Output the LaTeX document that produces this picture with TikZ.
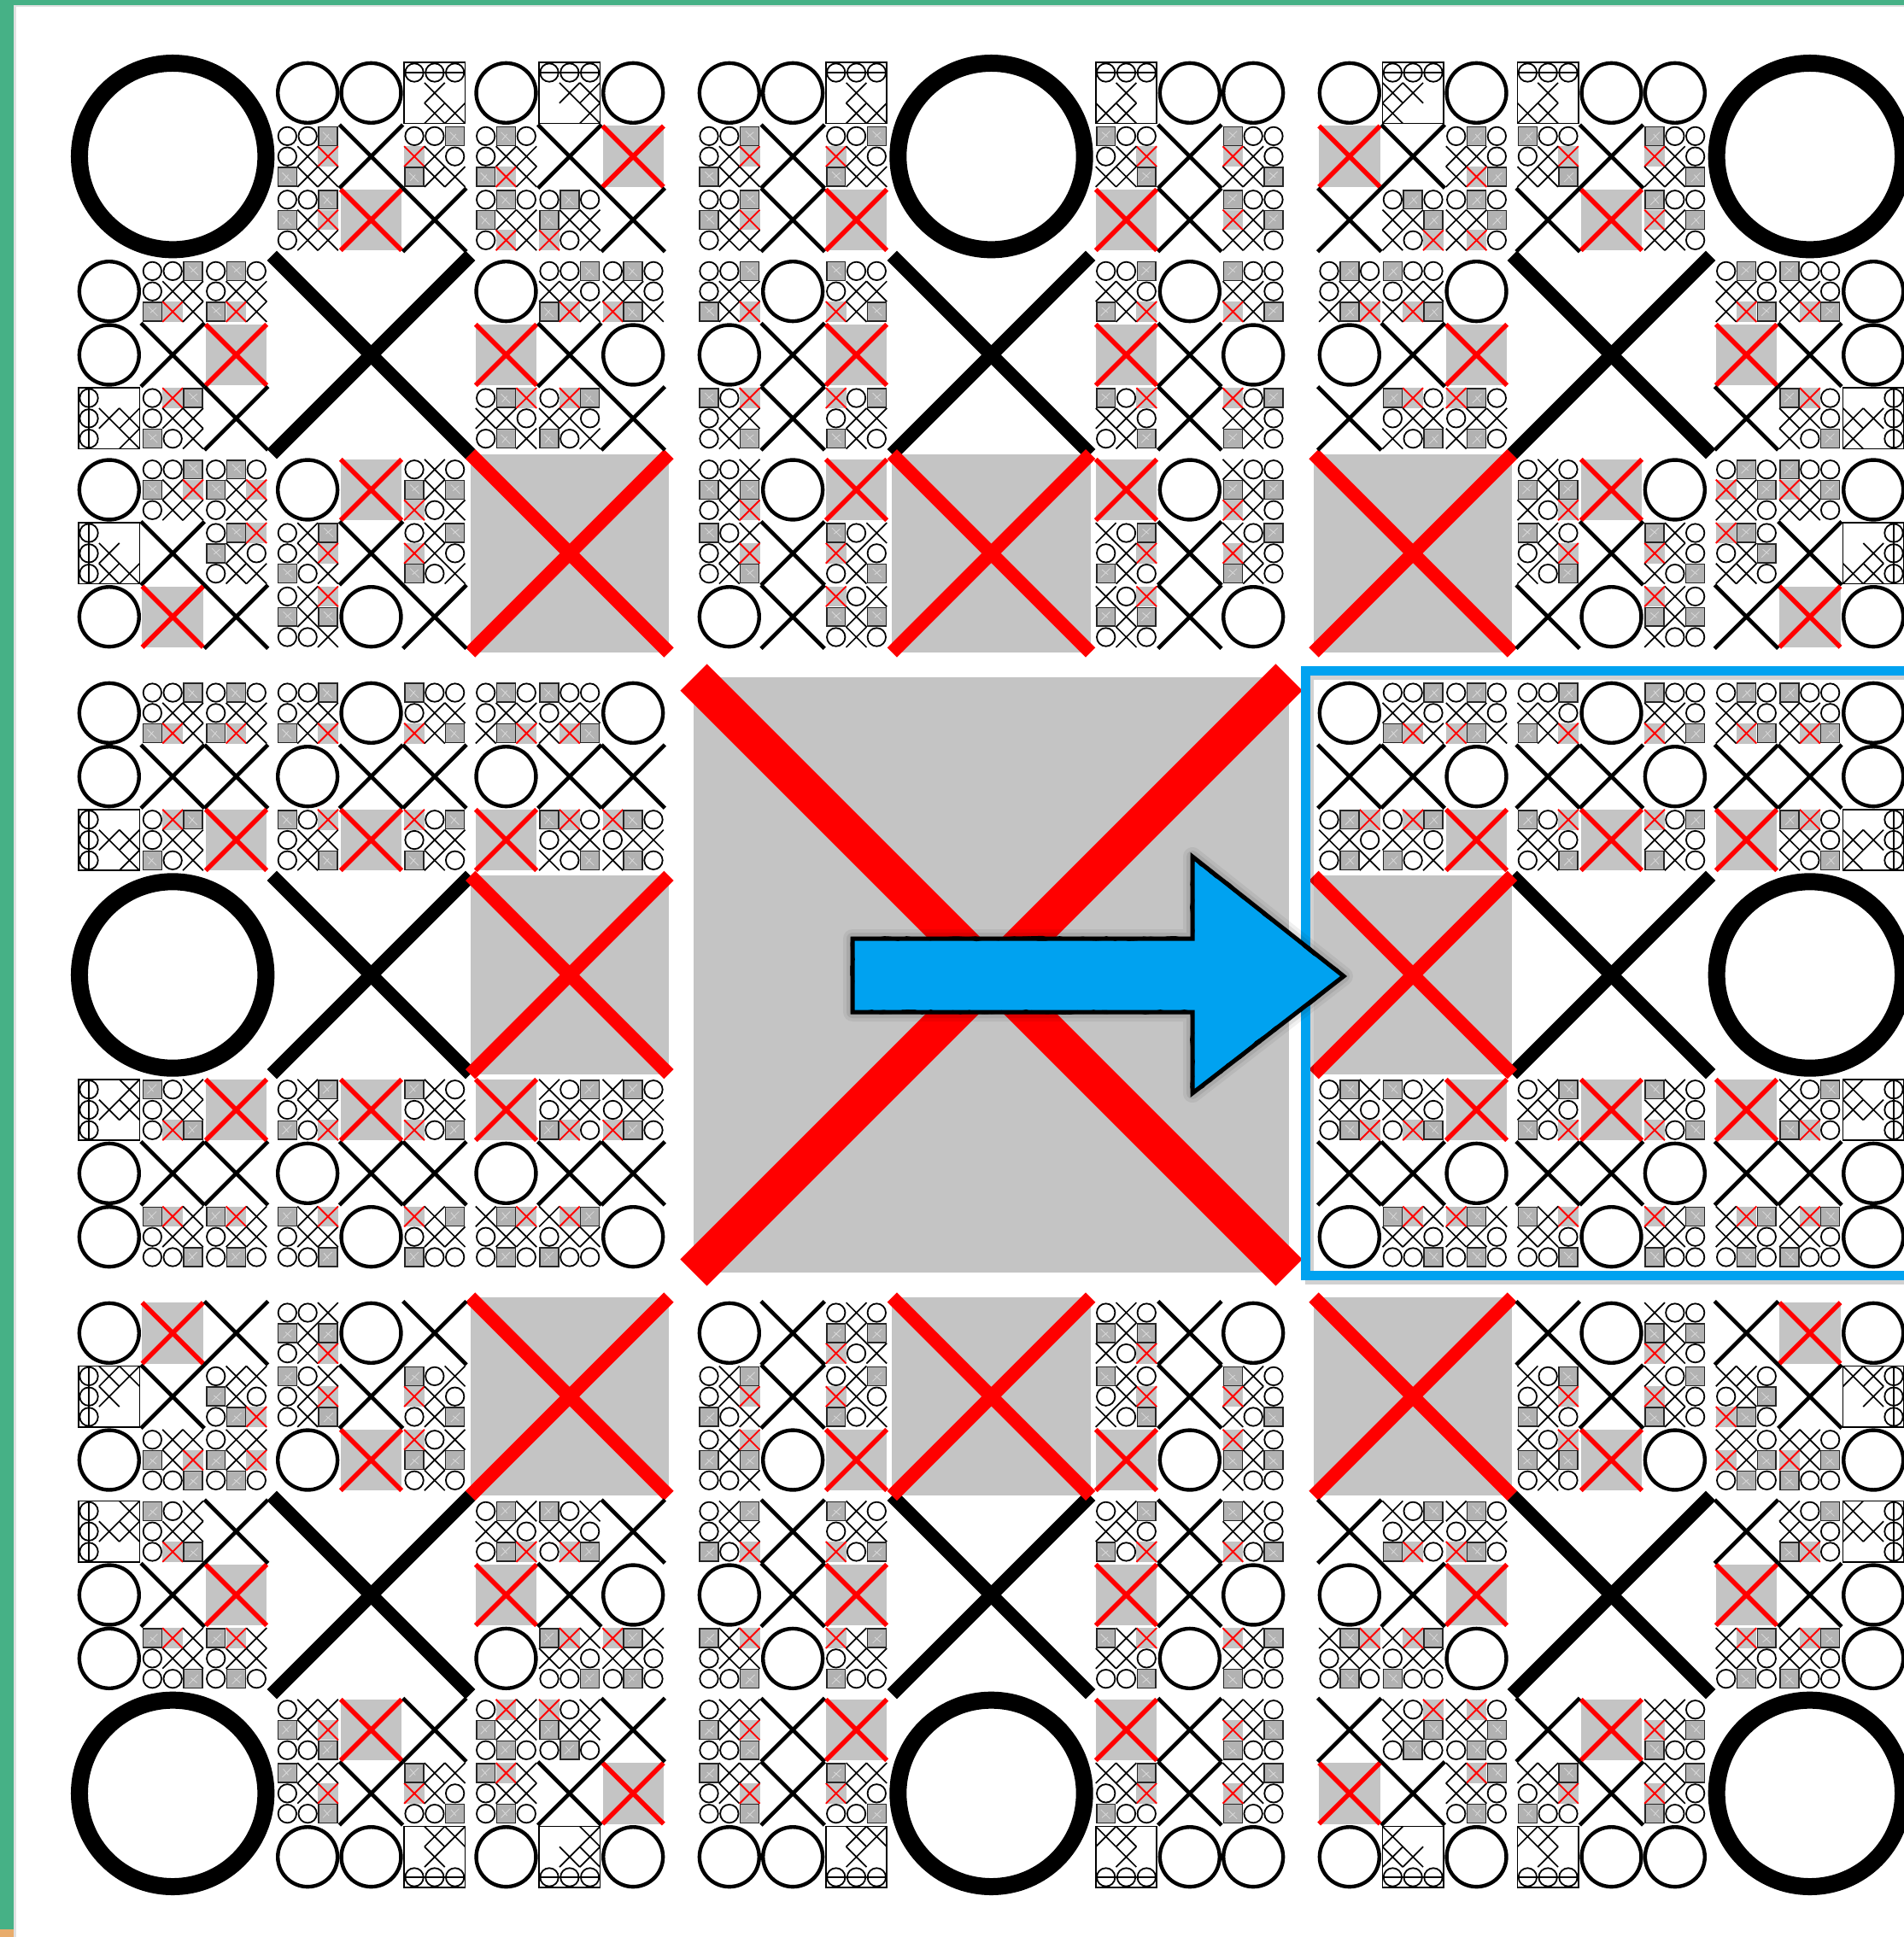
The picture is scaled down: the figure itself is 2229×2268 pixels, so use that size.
\documentclass[tikz,border=0pt]{standalone}
\usetikzlibrary{decorations.pathmorphing}
\definecolor{tgray}{RGB}{196,196,196}
\definecolor{tred}{RGB}{255,0,0}
\definecolor{tgreen}{RGB}{70,177,134}
\definecolor{tblue}{RGB}{0,162,240}
\definecolor{torange}{RGB}{232,172,108}

% ---- level 2 pieces (unit = 232.33px)
\newcommand\LtO[2]{\draw[line width=20pt] (#1+0.5,#2+0.5) circle[radius=0.47];}
\newcommand\LtX[2]{\draw[line width=16pt] (#1,#2) -- ++(1,1) (#1+1,#2) -- ++(-1,1);}
\newcommand\LtR[2]{\fill[tgray] (#1,#2) rectangle ++(1,1);
  \draw[tred,line width=16pt] (#1,#2) -- ++(1,1) (#1+1,#2) -- ++(-1,1);}
% ---- level 3 pieces (unit = 74.35px)
\newcommand\LcO[2]{\draw[line width=4.4pt] (#1+0.5,#2+0.5) circle[radius=0.47];}
\newcommand\LcX[2]{\draw[line width=4.6pt] (#1,#2) -- ++(1,1) (#1+1,#2) -- ++(-1,1);}
\newcommand\LcR[2]{\fill[tgray] (#1+0.02,#2+0.02) rectangle (#1+0.98,#2+0.98);
  \draw[tred,line width=5.5pt] (#1+0.02,#2+0.02) -- (#1+0.98,#2+0.98) (#1+0.98,#2+0.02) -- (#1+0.02,#2+0.98);}
% ---- level 4 pieces (unit = 23.8px)
\newcommand\Symo[2]{\draw[line width=1.8pt] (#1+0.5,#2+0.5) circle[radius=0.45];}
\newcommand\Symx[2]{\draw[line width=1.7pt] (#1,#2) -- ++(1,1) (#1+1,#2) -- ++(-1,1);}
\newcommand\Symr[2]{\fill[tgray] (#1,#2) rectangle ++(1,1);
  \draw[tred,line width=1.9pt] (#1,#2) -- ++(1,1) (#1+1,#2) -- ++(-1,1);}
\newcommand\Symg[2]{\draw[line width=1.5pt,draw=black!85,fill=black!30] (#1+0.04,#2+0.04) rectangle (#1+0.96,#2+0.96);
  \draw[white,opacity=0.5,line width=0.8pt] (#1+0.25,#2+0.3) -- (#1+0.7,#2+0.75) (#1+0.3,#2+0.7) -- (#1+0.55,#2+0.4);}
\newcommand\Syme[2]{}
\newcommand\Sym[3]{\csname Sym#3\endcsname{#1}{#2}}
\def\LfourBody#1#2#3#4#5#6#7#8#9{\Sym{0}{0}{#1}\Sym{1}{0}{#2}\Sym{2}{0}{#3}%
  \Sym{0}{1}{#4}\Sym{1}{1}{#5}\Sym{2}{1}{#6}\Sym{0}{2}{#7}\Sym{1}{2}{#8}\Sym{2}{2}{#9}}
\newcommand\Lfour[3]{\begin{scope}[shift={(#1+0.02,#2+0.02)},scale=0.32]\LfourBody#3\end{scope}}
\newcommand\Lbox[4]{\begin{scope}[shift={(#1+0.02,#2+0.02)},scale=0.32]
  \draw[line width=1.7pt] (0,0) rectangle (3,3); \LfourBody#3
  \draw[line width=1.9pt] #4;\end{scope}}
\newcommand\Lthree[3]{\begin{scope}[shift={(#1+0.02,#2+0.02)},scale=0.32]#3\end{scope}}

% ---- corner cell generator (O in top-left)
\newcommand\CornerSubs{%
\Lthree{1}{0}{\LcO{0}{0}\LcO{1}{0}\Lbox{2}{0}{oooexeexx}{(0,0.5)--(3,0.5)}
 \Lfour{0}{1}{oogoxrgxx}\LcX{1}{1}\Lfour{2}{1}{oogrxogxx}
 \Lfour{0}{2}{ooggxroxx}\LcR{1}{2}\LcX{2}{2}}%
\Lthree{2}{0}{\LcO{0}{0}\Lbox{1}{0}{oooexxeex}{(0,0.5)--(3,0.5)}\LcO{2}{0}
 \Lfour{0}{1}{ogooxxgrx}\LcX{1}{1}\LcR{2}{1}
 \Lfour{0}{2}{ogogxxorx}\Lfour{1}{2}{ogogxxrox}\LcX{2}{2}}%
\Lthree{2}{1}{\LcO{0}{0}\Lfour{1}{0}{oogxxogrx}\Lfour{2}{0}{ogoxxorgx}
 \LcR{0}{1}\LcX{1}{1}\LcO{2}{1}
 \Lfour{0}{2}{ogrxxoogx}\Lfour{1}{2}{orgxxogox}\LcX{2}{2}}%
}
\newcommand\Corner{\LtO{0}{0}\LtX{1}{1}\LtR{2}{2}\CornerSubs
  \begin{scope}[cm={0,1,1,0,(0,0)}]\CornerSubs\end{scope}}

% ---- edge cell generator (O in middle-left)
\newcommand\EdgeRow{%
\Lthree{0}{0}{\LcO{0}{0}\Lfour{1}{0}{oogoxxgrx}\Lfour{2}{0}{ogooxxgrx}
 \LcO{0}{1}\LcX{1}{1}\LcX{2}{1}
 \Lbox{0}{2}{oeeoxxoex}{(0.5,0)--(0.5,3)}\Lfour{1}{2}{orgoxxgox}\LcR{2}{2}}%
\Lthree{1}{0}{\Lfour{0}{0}{oogoxxgxr}\LcO{1}{0}\Lfour{2}{0}{goooxxrxg}
 \LcO{0}{1}\LcX{1}{1}\LcX{2}{1}
 \Lfour{0}{2}{goroxxoxg}\LcR{1}{2}\Lfour{2}{2}{rogoxxgxo}}%
\Lthree{2}{0}{\Lfour{0}{0}{ogooxxxgr}\Lfour{1}{0}{goooxxxrg}\LcO{2}{0}
 \LcO{0}{1}\LcX{1}{1}\LcX{2}{1}
 \LcR{0}{2}\Lfour{1}{2}{grooxxxog}\Lfour{2}{2}{rgooxxxgo}}%
}
\newcommand\Edge{\LtO{0}{1}\LtX{1}{1}\LtR{2}{1}\EdgeRow
  \begin{scope}[shift={(0,3)},yscale=-1]\EdgeRow\end{scope}}

\begin{document}
\begin{tikzpicture}[x=1pt,y=1pt,line cap=butt]
\begin{scope}[yscale=-1]
\useasboundingbox (0,0) rectangle (2229,2268);
\clip (0,0) rectangle (2229,2268);
\fill[white] (0,0) rectangle (2229,2268);
% green frame
\fill[tgreen] (0,0) rectangle (16,2268);
\fill[tgreen] (0,0) rectangle (2229,6);
\fill[torange] (0,2259) rectangle (16,2268);
\fill[black,opacity=0.12] (16,6) rectangle (19,2268);
\fill[black,opacity=0.12] (19,6) rectangle (2229,8);

% corner cells
\begin{scope}[shift={(86,67)},scale=232.333]\Corner\end{scope}
\begin{scope}[shift={(1538,67)},scale=232.333,shift={(3,0)},xscale=-1]\Corner\end{scope}
\begin{scope}[shift={(86,1519)},scale=232.333,shift={(0,3)},yscale=-1]\Corner\end{scope}
\begin{scope}[shift={(1538,1519)},scale=232.333,shift={(3,3)},scale=-1]\Corner\end{scope}
% edge cells
\begin{scope}[shift={(86,793)},scale=232.333]\Edge\end{scope}
\begin{scope}[shift={(1538,793)},scale=232.333,shift={(3,0)},xscale=-1]\Edge\end{scope}
\begin{scope}[shift={(812,67)},scale=232.333,cm={0,1,1,0,(0,0)}]\Edge\end{scope}
\begin{scope}[shift={(812,1519)},scale=232.333,shift={(0,3)},yscale=-1,cm={0,1,1,0,(0,0)}]\Edge\end{scope}
% centre cell
\begin{scope}[shift={(812,793)}]
\fill[tgray] (0,0) rectangle (697,697);
\draw[tred,line width=44pt] (0,0) -- (697,697) (697,0) -- (0,697);
\end{scope}

% highlight rectangle
\draw[black,opacity=0.18,line width=10pt] (1533,791) rectangle (2260,1499);
\draw[tblue,line width=11pt] (1528,785) rectangle (2255,1493);

% arrow
\coordinate (a1) at (998,1099);
\coordinate (a2) at (1396,1099);
\coordinate (a3) at (1396,1003);
\coordinate (a4) at (1573,1143);
\coordinate (a5) at (1396,1280);
\coordinate (a6) at (1396,1185);
\coordinate (a7) at (998,1185);
\begin{scope}[shift={(7,16)}]
\foreach \w/\o in {22/0.06,14/0.08,6/0.1}
  \draw[black,opacity=\o,line width=\w pt,line join=round] (a1)--(a2)--(a3)--(a4)--(a5)--(a6)--(a7)--cycle;
\fill[black,opacity=0.25] (a1)--(a2)--(a3)--(a4)--(a5)--(a6)--(a7)--cycle;
\end{scope}
\fill[tblue] (a1)--(a2)--(a3)--(a4)--(a5)--(a6)--(a7)--cycle;
\draw[black,line width=5pt,line join=miter] (a1)--(a2)--(a3)--(a4)--(a5)--(a6)--(a7)--cycle;
\pgfmathsetseed{7}
\draw[black,line width=1.8pt,decorate,decoration={random steps,segment length=9pt,amplitude=2pt}]
  (a1)--(a2)--(a3)--(a4)--(a5)--(a6)--(a7)--cycle;
\draw[black,line width=1.4pt,decorate,decoration={random steps,segment length=13pt,amplitude=2.5pt}]
  (a1)--(a2)--(a3)--(a4)--(a5)--(a6)--(a7)--cycle;
\end{scope}
\end{tikzpicture}
\end{document}
